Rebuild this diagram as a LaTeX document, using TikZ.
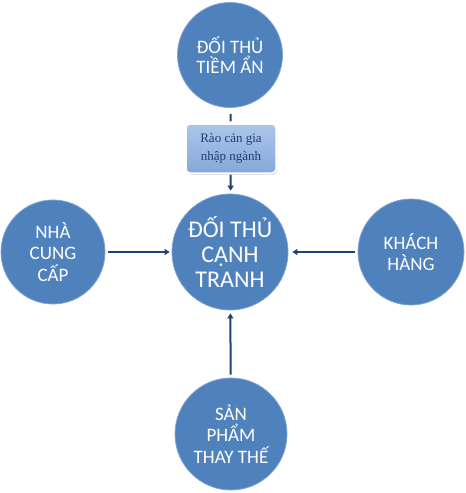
\documentclass[tikz,border=0pt]{standalone}
\usepackage{fontspec}
\setmainfont{Carlito}
\newfontfamily\boxfont{Liberation Serif}
\usetikzlibrary{arrows.meta,shadows}
\definecolor{circblue}{HTML}{4F81BD}
\definecolor{circedge}{HTML}{7FA3D3}
\definecolor{arrowblue}{HTML}{1F4373}
\definecolor{boxtop}{HTML}{ADC6E9}
\definecolor{boxbot}{HTML}{85A8D9}
\definecolor{boxtext}{HTML}{1F3F6F}
\begin{document}
\begin{tikzpicture}[x=1pt,y=-1pt,
  circ/.style={circle,fill=circblue,draw=circedge,line width=0.8pt,inner sep=0pt,
    text=white,align=center,font=\fontsize{19}{21.5}\selectfont},
  barrier/.style={rectangle,rounded corners=4pt,top color=boxtop,bottom color=boxbot,
    draw=white,line width=1.5pt,minimum width=90pt,minimum height=49pt,inner sep=2pt,
    align=center,text=boxtext,font=\boxfont\fontsize{13}{18}\selectfont,
    drop shadow={shadow xshift=1pt,shadow yshift=-1.5pt,opacity=0.35}},
  conn/.style={draw=arrowblue,line width=2pt},
  arr/.style={conn,-{Triangle[length=5pt,width=6pt]}}]
\useasboundingbox (0,0) rectangle (466,493);
\fill[white] (0,0) rectangle (466,493);
\node[circ,minimum size=105pt,font=\fontsize{19}{19.5}\selectfont] (top) at (230,55) {ĐỐI THỦ\\TIỀM ẨN};
\node[barrier] (box) at (231,148.5) {Rào cản gia\\nhập ngành};
\node[circ,minimum size=116pt,font=\fontsize{24}{25}\selectfont] (c) at (230,252) {ĐỐI THỦ\\CẠNH\\TRANH};
\node[circ,minimum size=104pt] (l) at (53,252) {NHÀ\\CUNG\\CẤP};
\node[circ,minimum size=106pt] (r) at (411,252) {KHÁCH\\HÀNG};
\node[circ,minimum size=112pt] (b) at (231,434) {SẢN\\PHẨM\\THAY THẾ};
\draw[conn,shorten <=6pt,shorten >=2pt] (top) -- (box);
\draw[arr,shorten <=1pt,shorten >=3pt] (box) -- (c);
\draw[arr,shorten <=3pt,shorten >=2pt] (l) -- (c);
\draw[arr,shorten <=3pt,shorten >=4pt] (r) -- (c);
\draw[arr,shorten <=3pt,shorten >=3pt] (b) -- (c);
\end{tikzpicture}
\end{document}
